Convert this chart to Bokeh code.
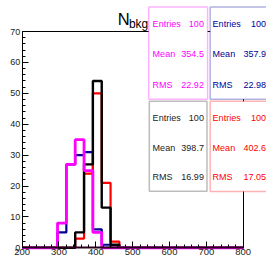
from bokeh.plotting import figure
from bokeh.models import Range1d, Label, BoxAnnotation, FixedTicker, LinearAxis
from bokeh.embed import file_html
from bokeh.resources import INLINE

# ---- data ----
edges = [200, 224, 248, 272, 296, 320, 344, 368, 392, 416, 440, 464, 488, 512,
         536, 560, 584, 608, 632, 656, 680, 704, 728, 752, 776, 800]
h_magenta = [0, 0, 0, 0, 8, 27, 35, 25, 5, 0, 0, 0, 0, 0, 0, 0, 0, 0, 0, 0, 0, 0, 0, 0, 0]
h_blue    = [0, 0, 0, 0, 5, 27, 30, 31, 6, 1, 0, 0, 0, 0, 0, 0, 0, 0, 0, 0, 0, 0, 0, 0, 0]
h_red     = [0, 0, 0, 0, 0, 0, 3, 24, 50, 21, 2, 0, 0, 0, 0, 0, 0, 0, 0, 0, 0, 0, 0, 0, 0]
h_black   = [0, 0, 0, 0, 0, 0, 5, 27, 54, 13, 1, 0, 0, 0, 0, 0, 0, 0, 0, 0, 0, 0, 0, 0, 0]

stat_names = ["Entries", "Mean", "RMS"]
stats_magenta = ["100", "354.5", "22.92"]
stats_blue = ["100", "357.9", "22.98"]
stats_black = ["100", "398.7", "16.99"]
stats_red = ["100", "402.6", "17.05"]

x_ticks = [200, 300, 400, 500, 600, 700, 800]
y_ticks = [0, 10, 20, 30, 40, 50, 60, 70]
x_lo, x_hi = 200, 800
y_lo, y_hi = 0, 70

C_MAG = "#ff00ff"
C_BLUE = "#000099"
C_RED = "#ff0000"
C_BLACK = "#000000"

W, H = 266, 258

# reference-pixel positions -> data coordinates (layout only)
def dx(xref):
    return 200 + (xref - 22.3) / 0.3795

def dy(yref):
    return (255 - yref) / 3.186

p = figure(width=W, height=H, output_backend="svg", toolbar_location=None,
           x_range=Range1d(dx(0), dx(274)), y_range=Range1d(dy(266), dy(0)),
           min_border_left=0, min_border_right=0, min_border_top=0,
           min_border_bottom=0, x_axis_location=None, y_axis_location=None)
p.title.visible = False
p.grid.visible = False
p.outline_line_color = None
p.background_fill_color = "white"
p.border_fill_color = "white"

def style_axis(ax, size):
    ax.major_tick_in = 6
    ax.major_tick_out = 0
    ax.minor_tick_in = 3
    ax.minor_tick_out = 0
    ax.axis_line_color = "black"
    ax.axis_line_width = 1
    ax.major_tick_line_color = "black"
    ax.minor_tick_line_color = "black"
    ax.major_label_text_font = "Liberation Sans"
    ax.major_label_text_color = "#222222"
    ax.major_label_text_font_size = size

xax = LinearAxis(fixed_location=y_lo, bounds=(x_lo, x_hi),
                 ticker=FixedTicker(ticks=x_ticks, minor_ticks=list(range(x_lo, x_hi + 1, 20))))
style_axis(xax, "9.5px")
xax.axis_line_width = 2
xax.axis_line_color = "#2a0020"
xax.major_label_standoff = 1
p.add_layout(xax, "below")

yax = LinearAxis(fixed_location=x_lo, bounds=(y_lo, y_hi),
                 ticker=FixedTicker(ticks=y_ticks, minor_ticks=list(range(y_lo, y_hi + 1, 2))))
style_axis(yax, "9px")
yax.major_label_standoff = 2
p.add_layout(yax, "left")

# frame top/right edges as plain axes without ticks
tax = LinearAxis(fixed_location=y_hi, bounds=(x_lo, x_hi), ticker=FixedTicker(ticks=[]),
                 major_label_text_font_size="0px", major_tick_line_color=None,
                 minor_tick_line_color=None, axis_line_color="black")
p.add_layout(tax, "above")
rax = LinearAxis(fixed_location=x_hi, bounds=(y_lo, y_hi), ticker=FixedTicker(ticks=[]),
                 major_label_text_font_size="0px", major_tick_line_color=None,
                 minor_tick_line_color=None, axis_line_color="black")
p.add_layout(rax, "right")

# histograms
for counts, col, lw in ((h_blue, C_BLUE, 2.2), (h_red, C_RED, 2.2),
                        (h_black, C_BLACK, 2.4), (h_magenta, C_MAG, 2.8)):
    p.step(x=edges, y=counts + [counts[-1]], mode="after", line_color=col,
           line_width=lw)

def stat_box(l, r, t, b, col, vals, rows, tl, tr):
    p.add_layout(BoxAnnotation(left=dx(l), right=dx(r), top=dy(t), bottom=dy(b),
                               fill_color="white", fill_alpha=1.0,
                               line_color=col, line_width=1.5, level="overlay"))
    for name, v, ry in zip(stat_names, vals, rows):
        p.add_layout(Label(x=dx(tl), y=dy(ry), text=name, text_align="left",
                           text_baseline="middle", text_font="Liberation Sans",
                           text_font_size="9px", text_color=col, level="overlay"))
        p.add_layout(Label(x=dx(tr), y=dy(ry), text=v, text_align="right",
                           text_baseline="middle", text_font="Liberation Sans",
                           text_font_size="9px", text_color=col, level="overlay"))

top_rows = [24.3, 54.7, 87.0]
bot_rows = [121.0, 152.3, 181.7]
stat_box(152.7, 213.3, 6.7, 101.7, C_MAG, stats_magenta, top_rows, 156.7, 209.5)
stat_box(216.0, 285.0, 6.7, 101.7, C_BLUE, stats_blue, top_rows, 218.5, 273.5)
stat_box(153.3, 212.7, 104.0, 196.7, "#222222", stats_black, bot_rows, 156.7, 209.5)
stat_box(216.0, 285.0, 104.0, 197.0, C_RED, stats_red, bot_rows, 218.5, 273.5)

# title N_bkg
p.add_layout(Label(x=dx(120.7), y=dy(19.3), text="N", text_align="left",
                   text_baseline="alphabetic", text_font="Liberation Sans",
                   text_font_size="16.5px", text_color="black"))
p.add_layout(Label(x=dx(132.3), y=dy(24.0), text="bkg", text_align="left",
                   text_baseline="alphabetic", text_font="Liberation Sans",
                   text_font_size="12px", text_color="black"))

open("out.html", "w").write(file_html(p, INLINE))
